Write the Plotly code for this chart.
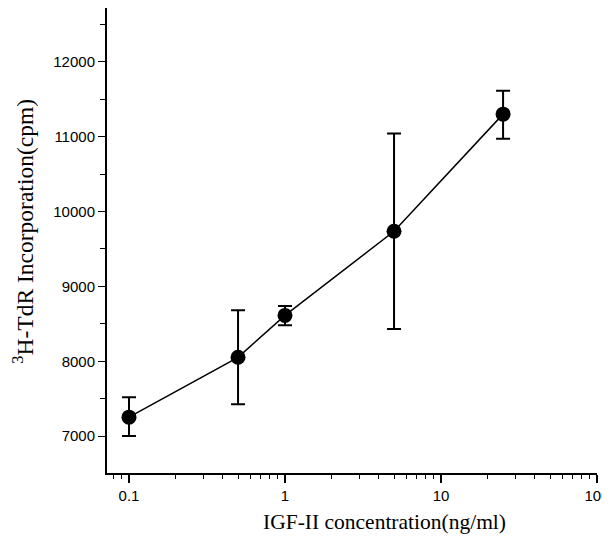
import plotly.graph_objects as go

# Data
conc = [0.1, 0.5, 1, 5, 25]
cpm = [7253, 8053, 8613, 9737, 11302]
err_plus = [267, 627, 124, 1307, 311]
err_minus = [253, 626, 133, 1306, 329]

x_tickvals = [0.1, 1, 10, 100]
x_ticktext = ["0.1", "1", "10", "100"]
x_minor = [0.08, 0.09, 0.2, 0.3, 0.4, 0.5, 0.6, 0.7, 0.8, 0.9,
           2, 3, 4, 5, 6, 7, 8, 9, 20, 30, 40, 50, 60, 70, 80, 90]

x_title = "IGF-II concentration(ng/ml)"
y_title = "<sup>3</sup>H-TdR Incorporation(cpm)"

fig = go.Figure()
fig.add_trace(go.Scatter(
    x=conc, y=cpm,
    mode="lines+markers",
    line=dict(color="black", width=1.5),
    marker=dict(color="black", size=15),
    error_y=dict(type="data", symmetric=False, array=err_plus, arrayminus=err_minus,
                 color="black", thickness=2, width=7),
    showlegend=False,
))

tickfont = dict(family="Liberation Sans, Arial, sans-serif", size=15, color="black")
serif = "Liberation Serif, Times New Roman, serif"

fig.update_xaxes(
    type="log",
    range=[-1.141, 2.0],
    tickmode="array", tickvals=x_tickvals, ticktext=x_ticktext,
    ticks="outside", ticklen=8, tickwidth=1.5, tickcolor="black",
    minor=dict(tickmode="array", tickvals=x_minor,
               ticks="outside", ticklen=4, tickwidth=1.2, tickcolor="black", showgrid=False),
    showline=True, linecolor="black", linewidth=1.5,
    showgrid=False, zeroline=False,
    tickfont=tickfont,
)
fig.update_yaxes(
    range=[6507, 12720],
    tick0=7000, dtick=1000, tickformat="d",
    ticks="outside", ticklen=7, tickwidth=1.2, tickcolor="black",
    minor=dict(dtick=500, tick0=6500, ticks="outside", ticklen=5, tickwidth=1.2,
               tickcolor="black", showgrid=False),
    showline=True, linecolor="black", linewidth=2,
    showgrid=False, zeroline=False,
    tickfont=tickfont,
)

fig.add_annotation(text=x_title, xref="paper", yref="paper", x=0.567, y=-0.105,
                   xanchor="center", yanchor="middle", showarrow=False,
                   font=dict(family=serif, size=21.5, color="black"))
fig.add_annotation(text=y_title, xref="paper", yref="paper", x=-0.1705, y=0.52,
                   xanchor="center", yanchor="middle", showarrow=False, textangle=-90,
                   font=dict(family=serif, size=23.5, color="black"))

# page body has an 8px margin; figure sized and placed to compensate
fig.update_layout(
    width=602, height=536,
    margin=dict(l=99, r=13, t=0, b=71),
    paper_bgcolor="white", plot_bgcolor="white",
)

fig.write_html("out.html")
